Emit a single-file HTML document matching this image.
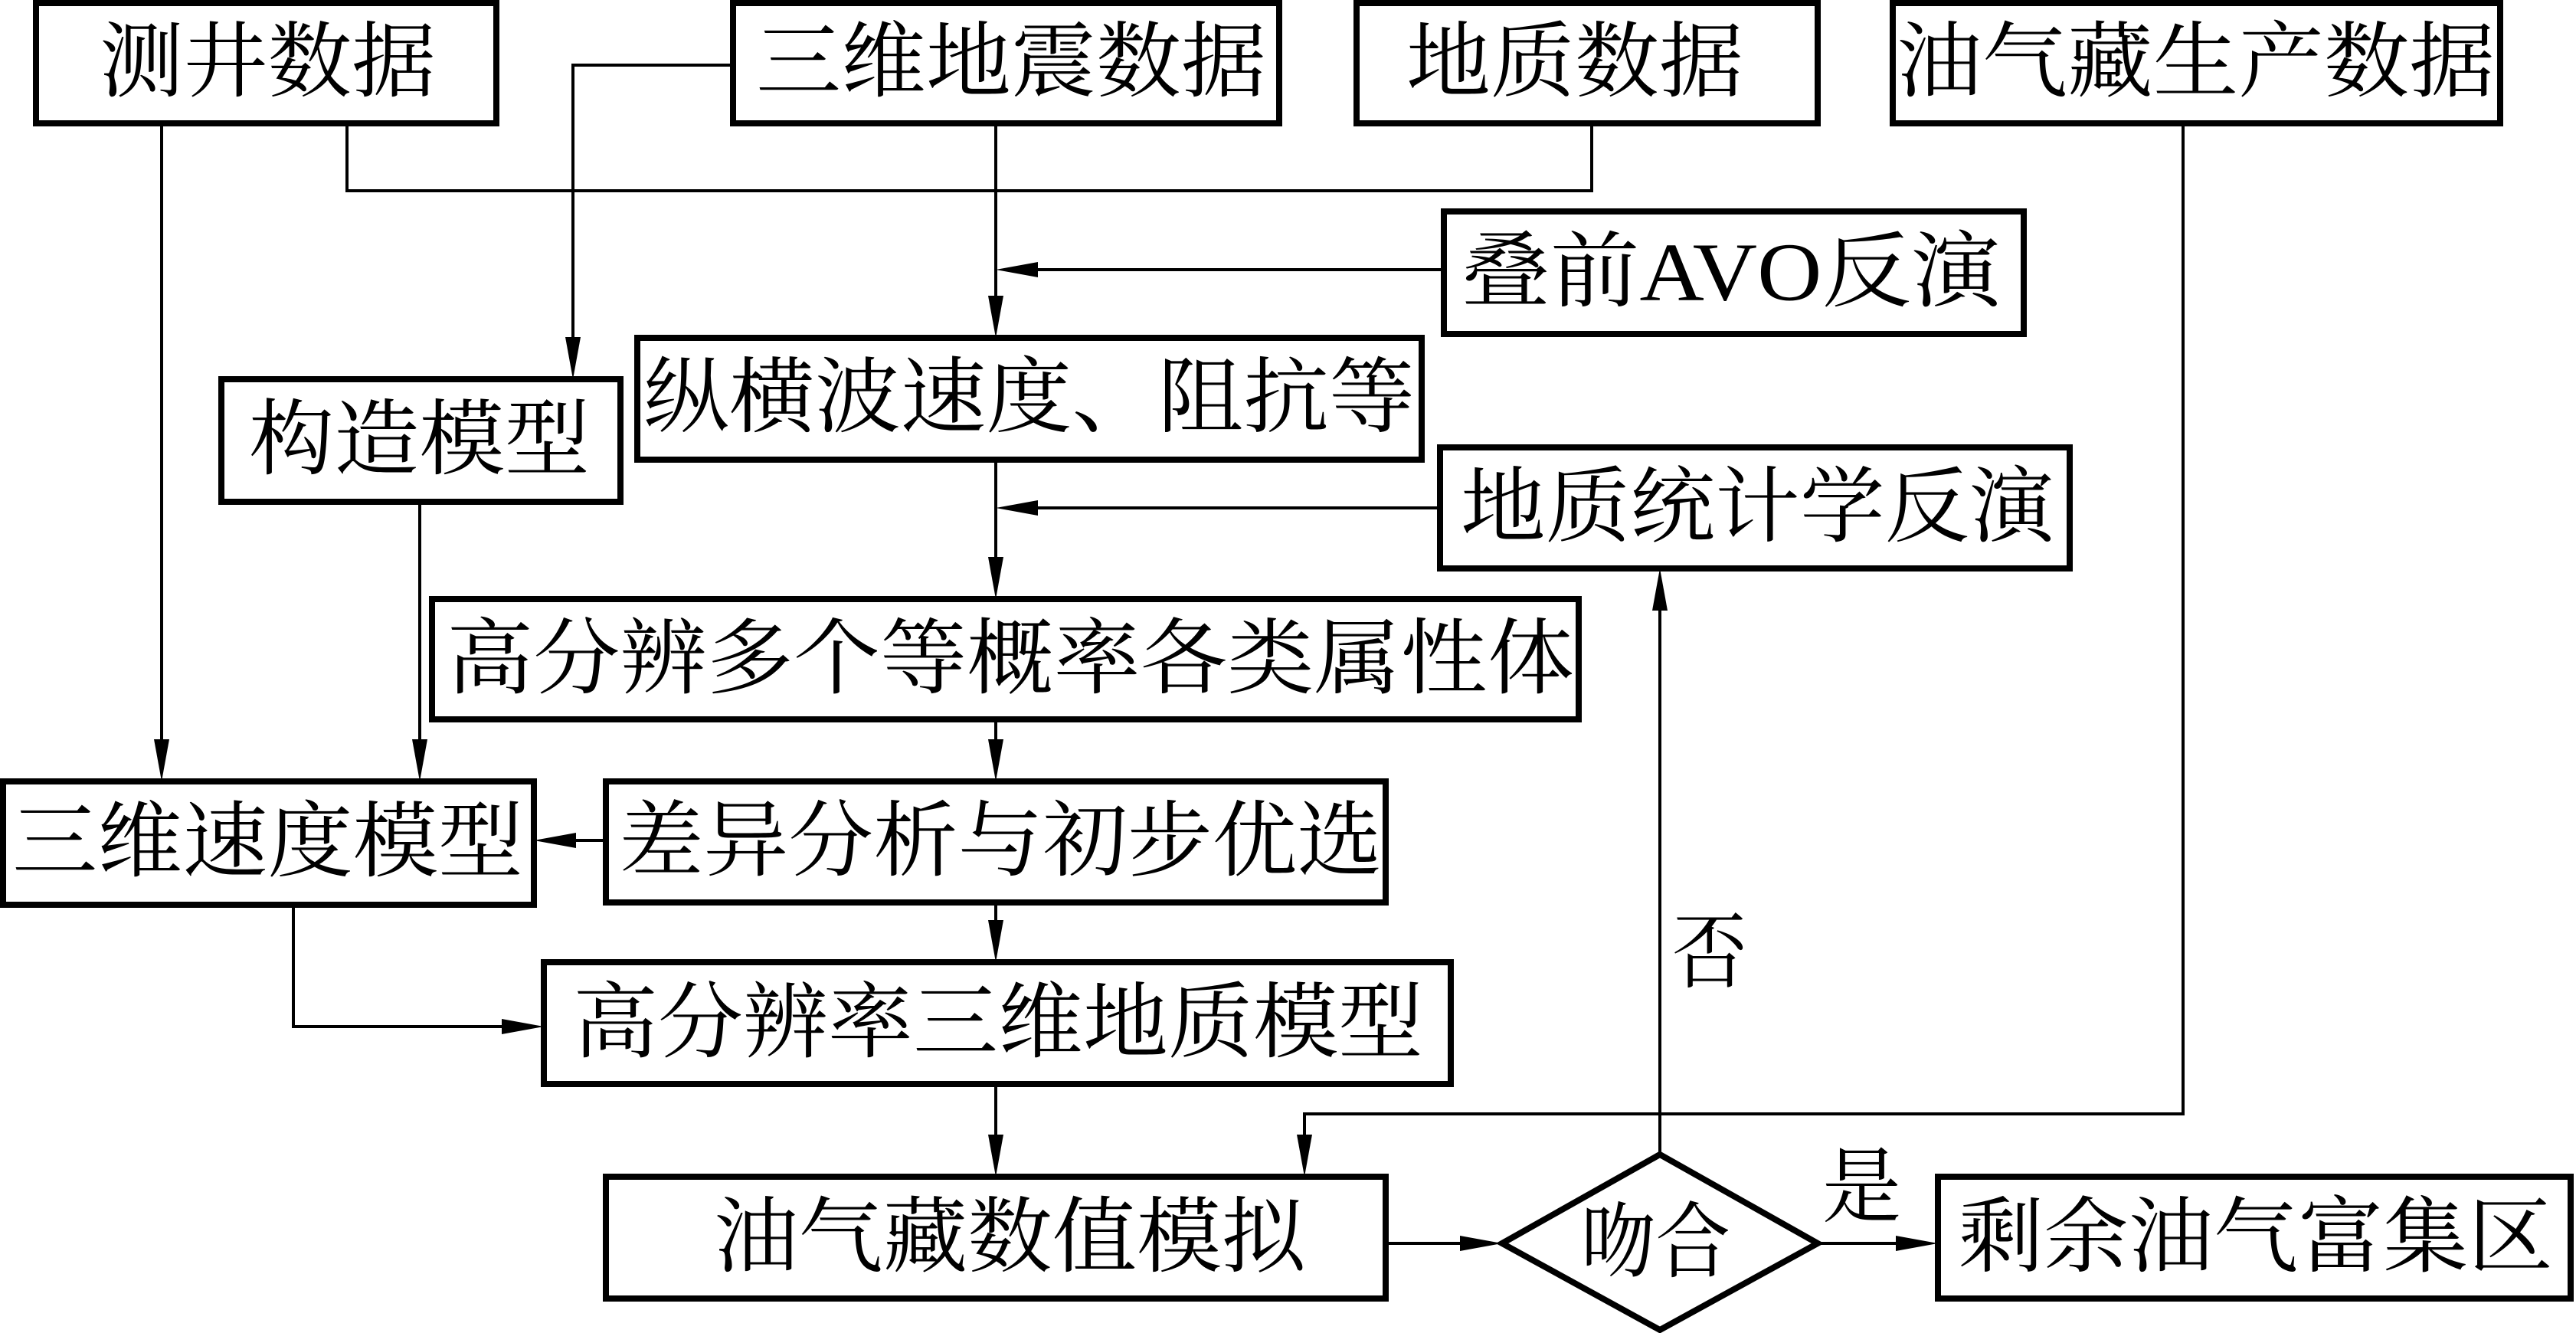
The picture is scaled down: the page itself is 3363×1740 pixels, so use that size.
<!DOCTYPE html>
<html><head><meta charset="utf-8"><style>
html,body{margin:0;padding:0;background:#fff;}
svg{display:block;}
text{font-family:"Liberation Serif","Noto Serif CJK SC",serif;font-size:108px;fill:#000;}
</style></head><body>
<svg width="3363" height="1740" viewBox="0 0 3363 1740" xmlns="http://www.w3.org/2000/svg">
<g fill="none" stroke="#000" stroke-width="8">
<rect x="47" y="4" width="601" height="157"/>
<rect x="957" y="4" width="713" height="157"/>
<rect x="1771" y="4" width="602" height="157"/>
<rect x="2471" y="4" width="793" height="157"/>
<rect x="1885" y="276" width="757" height="160"/>
<rect x="832" y="441" width="1024" height="159"/>
<rect x="289" y="495" width="521" height="160"/>
<rect x="1880" y="584" width="822" height="158"/>
<rect x="564" y="782" width="1497" height="157"/>
<rect x="4" y="1020" width="693" height="161"/>
<rect x="791" y="1020" width="1018" height="158"/>
<rect x="710" y="1256" width="1184" height="159"/>
<rect x="791" y="1536" width="1018" height="159"/>
<rect x="2530" y="1536" width="826" height="159"/>
<polygon points="2167,1507 2373,1623 2167,1736 1961,1623"/>
</g>
<g fill="none" stroke="#000" stroke-width="4">
<polyline points="211,161 211,1000"/>
<polyline points="453,161 453,249 2078,249 2078,161"/>
<polyline points="957,85 748,85 748,475"/>
<polyline points="1300,161 1300,421"/>
<polyline points="1885,352 1320,352"/>
<polyline points="1300,600 1300,762"/>
<polyline points="1880,663 1320,663"/>
<polyline points="548,655 548,1000"/>
<polyline points="1300,939 1300,1000"/>
<polyline points="791,1097 717,1097"/>
<polyline points="1300,1178 1300,1236"/>
<polyline points="383,1181 383,1340 690,1340"/>
<polyline points="1300,1415 1300,1516"/>
<polyline points="2850,161 2850,1454 1703,1454 1703,1516"/>
<polyline points="2167,1507 2167,762"/>
<polyline points="1809,1623 1941,1623"/>
<polyline points="2373,1623 2510,1623"/>
</g>
<g fill="#000">
<polygon points="211,1020 201,965 221,965"/>
<polygon points="748,495 738,440 758,440"/>
<polygon points="1300,441 1290,386 1310,386"/>
<polygon points="1300,352 1355,342 1355,362"/>
<polygon points="1300,782 1290,727 1310,727"/>
<polygon points="1300,663 1355,653 1355,673"/>
<polygon points="548,1020 538,965 558,965"/>
<polygon points="1300,1020 1290,965 1310,965"/>
<polygon points="697,1097 752,1087 752,1107"/>
<polygon points="1300,1256 1290,1201 1310,1201"/>
<polygon points="710,1340 655,1330 655,1350"/>
<polygon points="1300,1536 1290,1481 1310,1481"/>
<polygon points="1703,1536 1693,1481 1713,1481"/>
<polygon points="2167,742 2157,797 2177,797"/>
<polygon points="1961,1623 1906,1613 1906,1633"/>
<polygon points="2530,1623 2475,1613 2475,1633"/>
</g>
<g dominant-baseline="central" lengthAdjust="spacingAndGlyphs">
<text x="130" y="82" textLength="439" lengthAdjust="spacingAndGlyphs">测井数据</text>
<text x="987" y="82" textLength="666" lengthAdjust="spacingAndGlyphs">三维地震数据</text>
<text x="1836" y="82" textLength="440" lengthAdjust="spacingAndGlyphs">地质数据</text>
<text x="2476" y="82" textLength="781" lengthAdjust="spacingAndGlyphs">油气藏生产数据</text>
<text x="1907" y="356" textLength="705" lengthAdjust="spacingAndGlyphs">叠前AVO反演</text>
<text x="840" y="520" textLength="1007" lengthAdjust="spacingAndGlyphs">纵横波速度、阻抗等</text>
<text x="325" y="575" textLength="445" lengthAdjust="spacingAndGlyphs">构造模型</text>
<text x="1907" y="663" textLength="775" lengthAdjust="spacingAndGlyphs">地质统计学反演</text>
<text x="583" y="861" textLength="1472" lengthAdjust="spacingAndGlyphs">高分辨多个等概率各类属性体</text>
<text x="16" y="1100" textLength="667" lengthAdjust="spacingAndGlyphs">三维速度模型</text>
<text x="808" y="1099" textLength="996" lengthAdjust="spacingAndGlyphs">差异分析与初步优选</text>
<text x="748" y="1336" textLength="1110" lengthAdjust="spacingAndGlyphs">高分辨率三维地质模型</text>
<text x="932" y="1616" textLength="773" lengthAdjust="spacingAndGlyphs">油气藏数值模拟</text>
<text x="2064" y="1623" textLength="195" lengthAdjust="spacingAndGlyphs">吻合</text>
<text x="2557" y="1616" textLength="776" lengthAdjust="spacingAndGlyphs">剩余油气富集区</text>
<text x="2183" y="1245" textLength="98" lengthAdjust="spacingAndGlyphs">否</text>
<text x="2379" y="1551" textLength="103" lengthAdjust="spacingAndGlyphs">是</text>
</g>
</svg>
</body></html>
